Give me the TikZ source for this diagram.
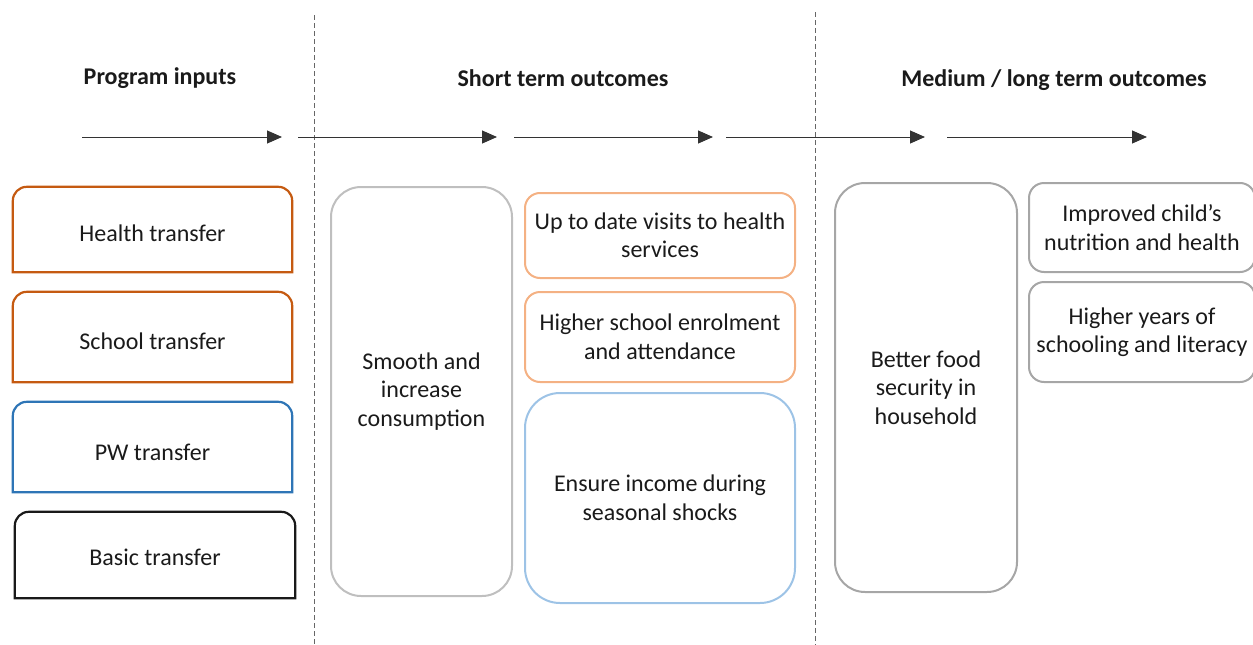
\documentclass[tikz,border=0pt]{standalone}
\usepackage{fontspec}
\setmainfont{Carlito}
\usetikzlibrary{arrows.meta}
\definecolor{dorange}{HTML}{C55A11}
\definecolor{dblue}{HTML}{2E75B6}
\definecolor{lorange}{HTML}{F4B183}
\definecolor{lblue}{HTML}{9DC3E6}
\definecolor{lgray}{HTML}{BFBFBF}
\definecolor{mgray}{HTML}{A6A6A6}
\definecolor{txt}{HTML}{1A1A1A}
\begin{document}
\begin{tikzpicture}[x=1pt,y=-1pt,
  every node/.style={text=txt,font=\fontsize{24}{28.5}\selectfont,align=center,inner sep=0pt},
  rbox/.style={draw,line width=2pt,rounded corners=#1},
  head/.style={font=\fontsize{24}{28}\selectfont\bfseries},
  flow/.style={line width=1pt,draw=black!80,-{Triangle[length=15pt,width=13pt]}},
  divider/.style={draw=black!60,line width=0.8pt,dash pattern=on 5pt off 3pt}]
\useasboundingbox (0,0) rectangle (1253,645);
% headings
\node[head] (h1) at (160,78) {Program inputs};
\node[head] (h2) at (563,78) {Short term outcomes};
\node[head] (h3) at (1054,80) {Medium / long term outcomes};
% dividers
\coordinate (d1a) at (314,15); \coordinate (d1b) at (314,645);
\coordinate (d2a) at (815,12); \coordinate (d2b) at (815,645);
\draw[divider] (d1a) -- (d1b);
\draw[divider] (d2a) -- (d2b);
% arrows
\foreach \a/\b [count=\i] in {82/282,298/497,514/713,726/925,947/1147}{
  \coordinate (s\i) at (\a,137); \coordinate (e\i) at (\b,137);
  \draw[flow] (s\i) -- (e\i);
}
% left boxes (top corners rounded)
\newcommand{\topround}[2]{%
  \draw[#2,line width=2.2pt] (#1.south west) -- ([yshift=-14pt]#1.north west)
    arc[start angle=180,end angle=90,radius=14pt] -- ([xshift=-14pt]#1.north east)
    arc[start angle=90,end angle=0,radius=14pt] -- (#1.south east) -- cycle;}
\node[minimum width=279pt,minimum height=85pt] (health) at (152.5,229.5) {};
\node at (152.5,233) {Health transfer};
\node[minimum width=279pt,minimum height=90pt] (school) at (152.5,337) {};
\node at (152.5,341) {School transfer};
\node[minimum width=279pt,minimum height=90pt] (pw) at (152.5,447) {};
\node at (152.5,452) {PW transfer};
\node[minimum width=280pt,minimum height=86pt] (basic) at (155,555) {};
\node at (155,557) {Basic transfer};
\topround{health}{dorange}
\topround{school}{dorange}
\topround{pw}{dblue}
\topround{basic}{black!90}
% short term
\node[rbox=30pt,draw=lgray,minimum width=181pt,minimum height=409pt] (smooth) at (421.5,391.5) {Smooth and\\increase\\consumption};
\node[rbox=15pt,draw=lorange,minimum width=270pt,minimum height=85pt] (visits) at (660,235.5) {Up to date visits to health\\services};
\node[rbox=15pt,draw=lorange,minimum width=270pt,minimum height=90pt] (enrol) at (660,337) {Higher school enrolment\\and attendance};
\node[rbox=35pt,draw=lblue,minimum width=270pt,minimum height=210pt] (income) at (660,498) {Ensure income during\\seasonal shocks};
% medium / long
\node[rbox=30pt,draw=mgray,minimum width=182pt,minimum height=409pt] (food) at (926,387.5) {Better food\\security in\\household};
\node[rbox=15pt,draw=mgray,minimum width=226pt,minimum height=89pt] (nutr) at (1142,227.5) {Improved child’s\\nutrition and health};
\node[rbox=15pt,draw=mgray,minimum width=226pt,minimum height=100pt] (years) at (1142,332) {Higher years of\\schooling and literacy};
\end{tikzpicture}
\end{document}
